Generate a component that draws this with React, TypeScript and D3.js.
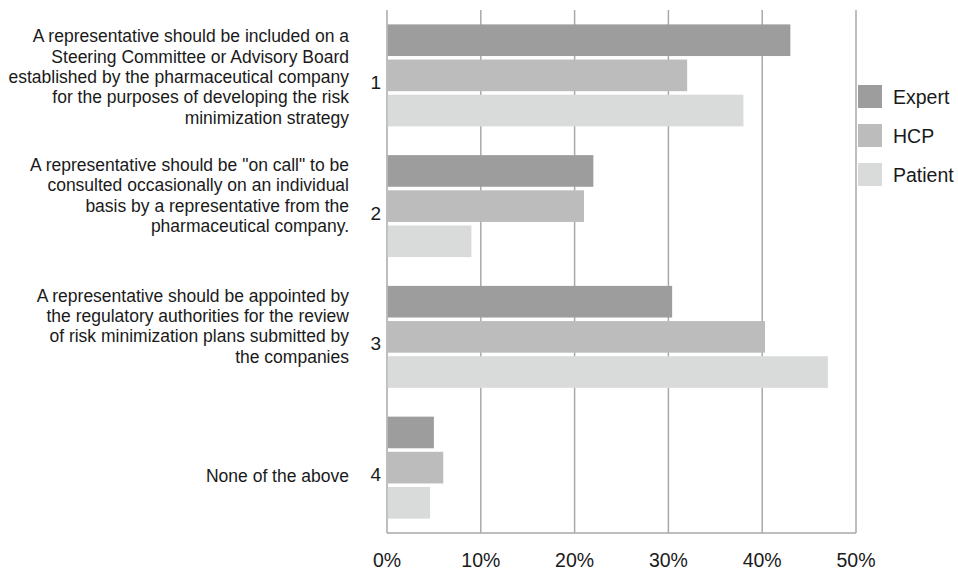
import React from "react";
import * as d3 from "d3";

const categories = ["1", "2", "3", "4"];
const labelLines = [
  [
    "A representative should be included on a",
    "Steering Committee or Advisory Board",
    "established by the pharmaceutical company",
    "for the purposes of developing the risk",
    "minimization strategy",
  ],
  [
    "A representative should be \"on call\" to be",
    "consulted occasionally on an individual",
    "basis by a representative from the",
    "pharmaceutical company.",
  ],
  [
    "A representative should be appointed by",
    "the regulatory authorities for the review",
    "of risk minimization plans submitted by",
    "the companies",
  ],
  ["None of the above"],
];
const seriesNames = ["Expert", "HCP", "Patient"];
const expert = [43, 22, 30.4, 5];
const hcp = [32, 21, 40.3, 6];
const patient = [38, 9, 47, 4.6];
const xTicks = [0, 10, 20, 30, 40, 50];

const colors = ["#9d9d9d", "#bbbcbb", "#d9dbda"];
const FONT = "'Liberation Sans', Arial, sans-serif";

export default function App() {
  const W = 958;
  const H = 570;
  const left = 387;
  const right = 856;
  const top = 10;
  const bottom = 533;
  const series = [expert, hcp, patient];

  const x = d3.scaleLinear().domain([0, 50]).range([left, right]);
  const y = d3
    .scaleBand<string>()
    .domain(categories)
    .range([top, bottom])
    .paddingInner(0.22)
    .paddingOuter(0.11);
  const ySub = d3
    .scaleBand<string>()
    .domain(seriesNames)
    .range([0, y.bandwidth()])
    .paddingInner(0.1);

  const lineH = 20.3;
  const firstOffset = (n: number) => (n === 1 ? 14 : n === 5 ? -33 : -35);

  return (
    <svg width={W} height={H} style={{ position: "absolute", left: 0, top: 0 }}>
      <rect width={W} height={H} fill="#fff" />
      {/* gridlines */}
      {xTicks.map((t) => (
        <line
          key={"g" + t}
          x1={x(t)}
          x2={x(t)}
          y1={top}
          y2={bottom}
          stroke="#a9a9a9"
          strokeWidth={1.5}
        />
      ))}
      <line x1={left} x2={right} y1={bottom} y2={bottom} stroke="#a9a9a9" strokeWidth={1.5} />
      {/* bars */}
      {categories.map((c, ci) =>
        series.map((s, si) => (
          <rect
            key={c + si}
            x={x(0) + 0.75}
            y={(y(c) as number) + (ySub(seriesNames[si]) as number)}
            width={x(s[ci]) - x(0) - 0.75}
            height={ySub.bandwidth()}
            fill={colors[si]}
          />
        ))
      )}
      {/* category numbers and labels */}
      {categories.map((c, ci) => {
        const cy = (y(c) as number) + y.bandwidth() / 2;
        const lines = labelLines[ci];
        const off = firstOffset(lines.length);
        return (
          <g key={"l" + c} fontFamily={FONT} fill="#1a1a1a">
            <text x={381} y={cy + 13.5} fontSize={19} textAnchor="end">
              {c}
            </text>
            <text fontSize={17.5} textAnchor="end">
              {lines.map((ln, li) => (
                <tspan key={li} x={349} y={cy + off + li * lineH}>
                  {ln}
                </tspan>
              ))}
            </text>
          </g>
        );
      })}
      {/* x tick labels */}
      {xTicks.map((t) => (
        <text
          key={"t" + t}
          x={x(t)}
          y={567}
          fontSize={19.5}
          fontFamily={FONT}
          textAnchor="middle"
          fill="#1a1a1a"
        >
          {t + "%"}
        </text>
      ))}
      {/* legend */}
      {seriesNames.map((n, i) => (
        <g key={"lg" + n}>
          <rect x={858} y={85 + i * 39} width={24} height={23} fill={colors[i]} />
          <text
            x={893}
            y={104 + i * 39}
            fontSize={19.5}
            fontFamily={FONT}
            fill="#1a1a1a"
          >
            {n}
          </text>
        </g>
      ))}
    </svg>
  );
}
